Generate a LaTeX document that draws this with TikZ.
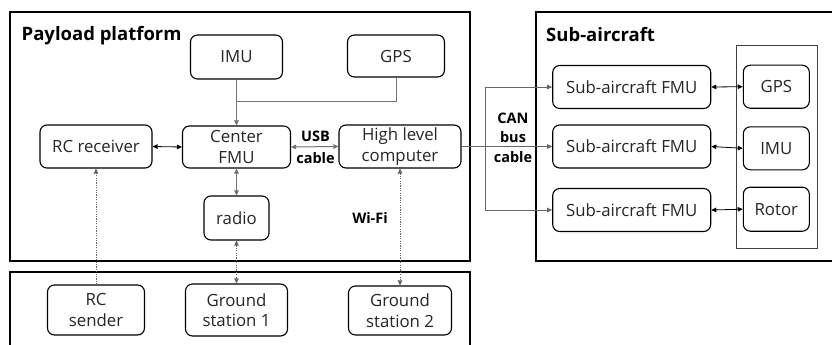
\documentclass[tikz,border=0pt]{standalone}
\usepackage{fontspec}
\setmainfont{Open Sans}
\usetikzlibrary{arrows.meta}
\tikzset{
  unit/.style={draw=black, line width=1.1pt, rounded corners=7pt, align=center,
    inner sep=0pt, font=\fontsize{16.8}{20.5}\selectfont, text=black!85},
  frame/.style={draw=black, line width=2pt},
  inner frame/.style={draw=black!75, line width=1pt},
  title/.style={font=\fontsize{18.5}{22}\selectfont\bfseries, anchor=west, inner sep=0pt},
  tag/.style={font=\fontsize{14.5}{17}\selectfont\bfseries, inner sep=0pt},
  tip/.style={-{Triangle[length=5pt,width=4.5pt]}},
  tips/.style={{Triangle[length=5pt,width=4.5pt]}-{Triangle[length=5pt,width=4.5pt]}},
  link/.style={draw=black, line width=0.8pt},
  grey link/.style={draw=black!55, line width=1pt},
  bus link/.style={draw=black!60, line width=0.8pt},
  radio link/.style={draw=black!60, line width=0.7pt, dash pattern=on 1.2pt off 1.2pt},
}
\begin{document}
\begin{tikzpicture}[x=1pt,y=-1pt]
\useasboundingbox (0,0) rectangle (832,345);
\fill[white] (0,0) rectangle (832,345);

% enclosures
\draw[frame] (10,12) rectangle (470,260.7);
\draw[frame] (10,360) |- (470,271.7) -- (470,360);
\draw[frame] (840,11.7) -| (535.7,260.7) -- (840,260.7);
\draw[inner frame] (736,46) rectangle (817.7,248.3);

\node[title] (ptitle) at (21.5,36) {Payload platform};
\node[title] (stitle) at (546,35) {Sub-aircraft};

% payload platform units
\node[unit, minimum width=92pt, minimum height=44pt] (imu) at (236.5,57) {IMU};
\node[unit, minimum width=97pt, minimum height=42pt] (gpsA) at (396,56) {GPS};
\node[unit, minimum width=108pt, minimum height=42pt] (cfmu) at (236.5,147) {Center\\FMU};
\node[unit, minimum width=112pt, minimum height=43pt] (rcr) at (96,146.5) {RC receiver};
\node[unit, minimum width=122pt, minimum height=43pt] (hlc) at (400,146.5) {High level\\computer};
\node[unit, minimum width=65pt, minimum height=44pt] (radio) at (236.5,218) {radio};

% ground units
\node[unit, minimum width=97pt, minimum height=50pt] (rcs) at (96,310) {RC\\sender};
\node[unit, minimum width=102pt, minimum height=52pt] (gs1) at (236.5,310) {Ground\\station 1};
\node[unit, minimum width=103pt, minimum height=49pt] (gs2) at (400,310.5) {Ground\\station 2};

% sub-aircraft units
\node[unit, minimum width=158pt, minimum height=43pt] (sf1) at (631.7,87) {Sub-aircraft FMU};
\node[unit, minimum width=158pt, minimum height=43pt] (sf2) at (631.7,146.5) {Sub-aircraft FMU};
\node[unit, minimum width=158pt, minimum height=43pt] (sf3) at (631.7,210) {Sub-aircraft FMU};
\node[unit, minimum width=66pt, minimum height=43pt] (gpsB) at (776.3,86.7) {GPS};
\node[unit, minimum width=66pt, minimum height=43pt] (imuB) at (776.3,148.3) {IMU};
\node[unit, minimum width=66pt, minimum height=44pt] (rotor) at (776.3,209.2) {Rotor};

% sensor feed into the center FMU
\coordinate (join) at (236.5,101.7);
\draw[grey link, tip] (imu.south) -- (cfmu.north);
\draw[grey link] (gpsA.south) |- (join);

% wired links
\draw[link, tips] (rcr.east) -- (cfmu.west);
\draw[grey link, tips] (cfmu.east) -- (hlc.west);
\draw[grey link, tips] (cfmu.south) -- (radio.north);
\node[tag] (usb) at (315.5,136.5) {USB};
\node[tag] (usbc) at (315.5,158.5) {cable};

% wireless links
\draw[radio link, tip] (rcs.north) -- (rcr.south);
\draw[radio link, tips] (radio.south) -- (gs1.north);
\draw[radio link, tips] (hlc.south) -- (gs2.north);
\node[tag] (wifi) at (370,218) {Wi-Fi};

% CAN bus
\coordinate (bus) at (485,146.5);
\draw[bus link, tip] (hlc.east) -- (sf2.west);
\draw[bus link, tip] (bus) |- (sf1.west);
\draw[bus link, tip] (bus) |- (sf3.west);
\node[tag] (can1) at (513,118) {CAN};
\node[tag] (can2) at (513,137.5) {bus};
\node[tag] (can3) at (513,157) {cable};

% sub-aircraft internal links
\draw[link, tips] (sf1.east) -- (gpsB.west);
\draw[link, tips] (sf2.east) -- (imuB.west);
\draw[link, tips] (sf3.east) -- (rotor.west);
\end{tikzpicture}
\end{document}
